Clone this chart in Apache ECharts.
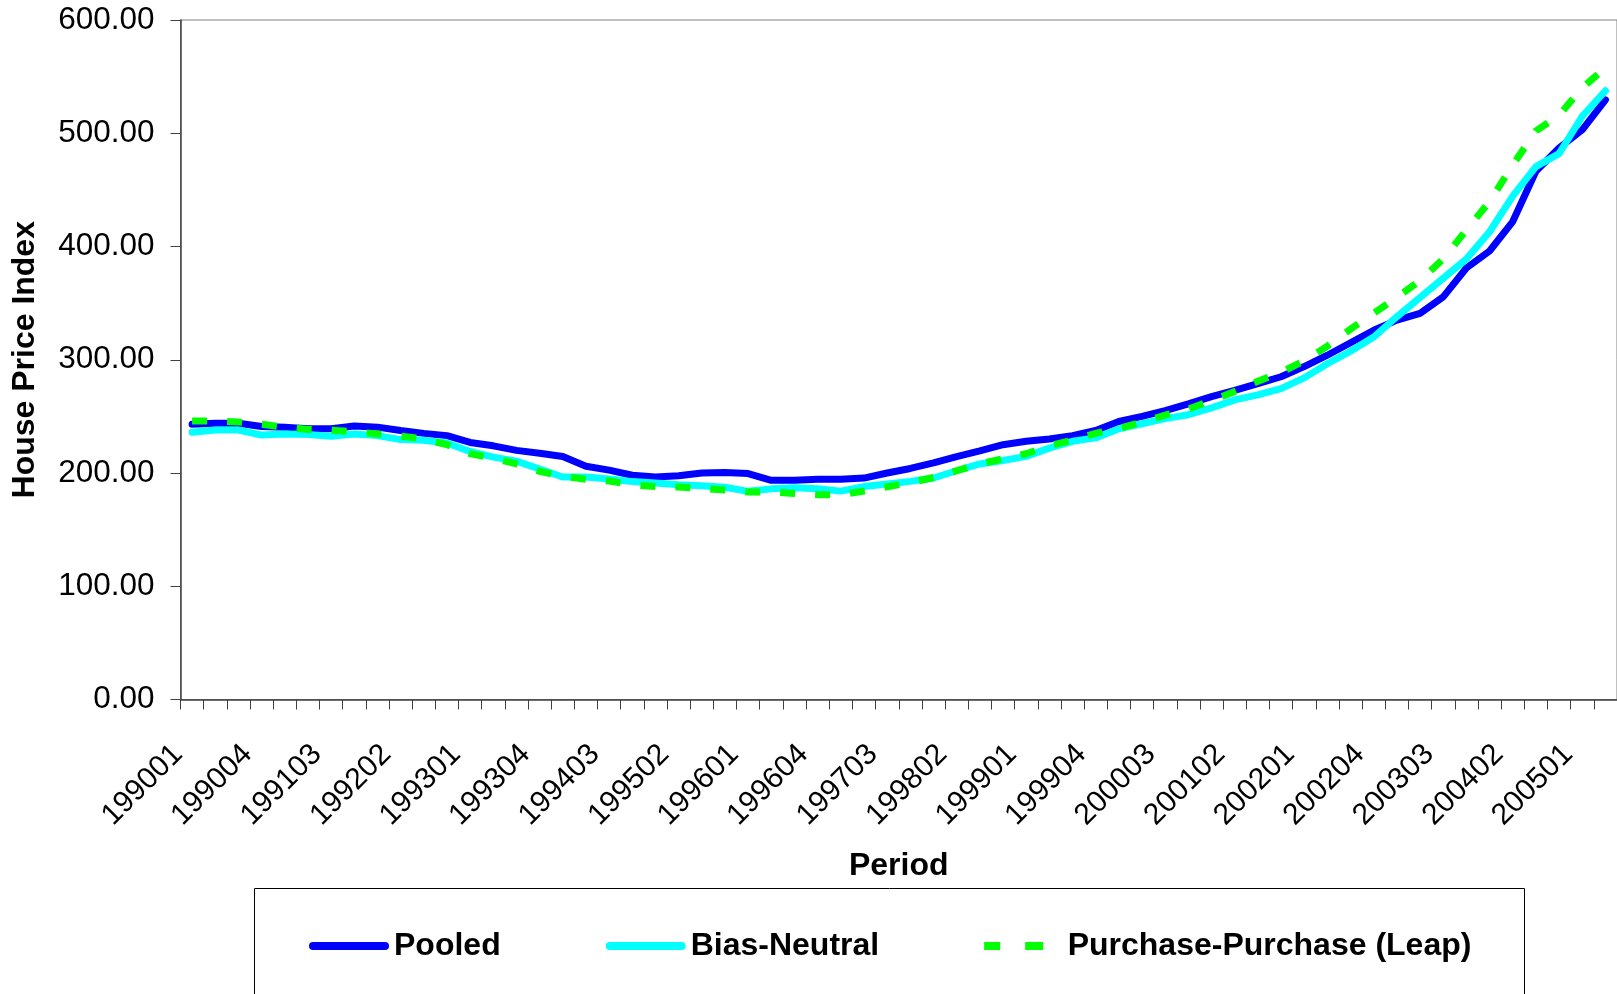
<!DOCTYPE html>
<html>
<head>
<meta charset="utf-8">
<script src="https://cdn.jsdelivr.net/npm/echarts@6/dist/echarts.min.js"></script>
<style>
html,body{margin:0;padding:0;background:#fff;}
#chart{width:1617px;height:994px;}
</style>
</head>
<body>
<div id="chart"></div>
<script>
const periods = [
 '199001','199002','199003','199004','199101','199102','199103','199104',
 '199201','199202','199203','199204','199301','199302','199303','199304',
 '199401','199402','199403','199404','199501','199502','199503','199504',
 '199601','199602','199603','199604','199701','199702','199703','199704',
 '199801','199802','199803','199804','199901','199902','199903','199904',
 '200001','200002','200003','200004','200101','200102','200103','200104',
 '200201','200202','200203','200204','200301','200302','200303','200304',
 '200401','200402','200403','200404','200501','200502'
];
const pooled = [
 243,244,244,241,240.5,239,239,241.5,240.5,237.5,235,233,227,224,220,217.5,
 214.5,206,202.5,198,196.5,197.5,200,200.5,199.5,193.5,193.5,194.5,194.5,195.5,200,204,
 209,214.5,219.5,225,228,230,233,237.5,245.5,250,255,261,267.5,273,279,285,
 294,304,315,326,335,341,355.5,381,396,422,466.5,487,503,529.5
];
const biasNeutral = [
 236,238,238,233.5,234.5,234,232.5,234.5,233,229.5,229,226.5,219,214,210.5,203.5,
 196.5,196.5,194.7,192.4,191.2,189.7,188.8,187.4,183.8,186,187,186,184,188,190.3,192.6,
 195.6,202,208,211,214.7,222,228,231,239,243.5,248,251.5,257.5,264.5,269,274.5,
 284,296.5,307.5,320,338,355,372,389,413,444.5,470.5,482,515,537.5
];
const purchaseLeap = [
 246,246,245,243,240.5,238.5,237.7,236.3,234.5,232.6,230,225,217,213,208,201.5,
 197,194.5,193,189.5,188,187.6,186.5,185,183.2,183.4,182,180.9,180.9,184,187.8,191.5,
 196,202,208,212.5,217,224,229,235,239.4,245,251,256.5,264,272,281,289,
 299,312,327,341,355,370,389,414.7,439.7,472,502,516,540,558
];
const seriesNames = ['Pooled','Bias-Neutral','Purchase-Purchase (Leap)'];
const yTicks = {min:0, max:600, interval:100};

const FONT = '"Liberation Sans", Arial, sans-serif';
const axisColor = '#404040';

const solidIcon = 'path://M4,0H76A4,4 0 0 1 76,8H4A4,4 0 0 1 4,0Z';
const dashIcon = 'path://M3,0H19V8H3Z M44,0H62V8H44Z M80,4H80';

const chart = echarts.init(document.getElementById('chart'), null, {renderer:'canvas'});
chart.setOption({
  animation:false,
  backgroundColor:'#ffffff',
  textStyle:{fontFamily:FONT, color:'#000'},
  grid:{left:180.5, right:-6.2, top:20, bottom:294.5, show:true, borderColor:'#808080', borderWidth:1, containLabel:false},
  legend:{
    left:304, top:925, itemWidth:80, itemHeight:8, itemGap:105,
    textStyle:{fontFamily:FONT, fontWeight:'bold', fontSize:32, color:'#000'},
    data:[
      {name:seriesNames[0], icon:solidIcon},
      {name:seriesNames[1], icon:solidIcon},
      {name:seriesNames[2], icon:dashIcon}
    ]
  },
  graphic:[{type:'rect', shape:{x:254.5, y:888.5, width:1270, height:130}, style:{fill:'none', stroke:'#000', lineWidth:1}, silent:true}],
  xAxis:{
    type:'category', data:periods, boundaryGap:true,
    name:'Period', nameLocation:'middle', nameGap:151,
    nameTextStyle:{fontFamily:FONT, fontWeight:'bold', fontSize:32, color:'#000'},
    axisLine:{show:true, lineStyle:{color:axisColor, width:1.5}},
    axisTick:{show:true, interval:0, length:10, inside:false, lineStyle:{color:axisColor, width:1}},
    axisLabel:{interval:2, rotate:45, fontSize:30, color:'#000', fontFamily:FONT, margin:36, padding:[0,20,0,0]},
    splitLine:{show:false}
  },
  yAxis:{
    type:'value', min:yTicks.min, max:yTicks.max, interval:yTicks.interval,
    name:'House Price Index', nameLocation:'middle', nameGap:139, nameRotate:90,
    nameTextStyle:{fontFamily:FONT, fontWeight:'bold', fontSize:32, color:'#000'},
    axisLine:{show:true, lineStyle:{color:axisColor, width:1.5}},
    axisTick:{show:true, length:10, lineStyle:{color:axisColor, width:1}},
    axisLabel:{fontSize:31.5, color:'#000', fontFamily:FONT, margin:26, formatter:(v)=>v.toFixed(2)},
    splitLine:{show:false}
  },
  series:[
    {name:seriesNames[0], type:'line', data:pooled, symbol:'none', z:2,
     itemStyle:{color:'#0000FF'},
     lineStyle:{color:'#0000FF', width:7, cap:'round', join:'round'}},
    {name:seriesNames[1], type:'line', data:biasNeutral, symbol:'none', z:3,
     itemStyle:{color:'#00FFFF'},
     lineStyle:{color:'#00FFFF', width:7, cap:'round', join:'round'}},
    {name:seriesNames[2], type:'line', data:purchaseLeap, symbol:'none', z:4,
     itemStyle:{color:'#00FF00'},
     lineStyle:{color:'#00FF00', width:7, type:[15,20], cap:'butt', join:'miter'}}
  ]
});
</script>
</body>
</html>
